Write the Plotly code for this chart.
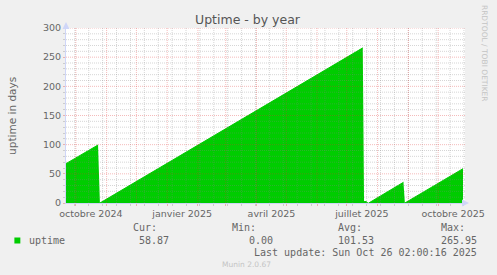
import pandas as pd
import plotly.graph_objects as go

# ---------------- data ----------------
times = ["2024-09-21 02:00", "2024-10-23 09:00", "2024-10-24 08:00", "2024-10-25 06:00",
         "2025-07-17 02:00", "2025-07-17 20:00", "2025-07-18 09:00", "2025-07-20 20:00",
         "2025-07-21 20:00", "2025-07-23 02:00", "2025-08-27 02:00", "2025-08-27 20:00",
         "2025-08-28 12:00", "2025-10-26 02:00"]
uptime = [67.5, 99.5, None, 0.0,
          265.95, None, 2.5, 2.5,
          None, 0.0, 35.5, None,
          0.0, 58.87]

stat_names = ["Cur:", "Min:", "Avg:", "Max:"]
stat_values = ["58.87", "0.00", "101.53", "265.95"]
series_name = "uptime"
last_update = "Last update: Sun Oct 26 02:00:16 2025"

month_labels = {"2024-10-01": "octobre 2024", "2025-01-01": "janvier 2025",
                "2025-04-01": "avril 2025", "2025-07-01": "juillet 2025",
                "2025-10-01": "octobre 2025"}

# ---------------- layout geometry ----------------
W, H = 497, 275
L, T, PW, PH = 66, 28, 402, 175
x_range = [pd.Timestamp("2024-09-21 02:00"), pd.Timestamp("2025-10-28 02:00")]
y_range = [0, 300]

def px(x):
    return (x - L) / PW

def py(y):
    return (T + PH - y) / PH

GREEN = "#00CC00"
FONT = "#666666"
AXIS = "#CFD6F8"
MAJ = "rgba(222,48,48,0.33)"
MIN = "rgba(130,130,130,0.33)"

months = pd.date_range("2024-10-01", "2025-10-01", freq="MS")
fortnights = pd.date_range("2024-09-30", "2025-10-27", freq="14D")
y_major = list(range(50, 301, 50))
y_minor = [v for v in range(10, 301, 10) if v % 50]

fig = go.Figure()
fig.add_trace(go.Scatter(
    x=pd.to_datetime(times), y=uptime, mode="lines",
    line=dict(color=GREEN, width=1), fill="tozeroy", fillcolor=GREEN,
    connectgaps=False, hoverinfo="skip", showlegend=False))

shapes = []
for d in fortnights:
    shapes.append(dict(type="line", xref="x", yref="paper", x0=d, x1=d, y0=0, y1=1,
                       line=dict(color=MIN, width=1, dash="1px,1px"), layer="above"))
for v in y_minor:
    shapes.append(dict(type="line", xref="paper", yref="y", x0=0, x1=1, y0=v, y1=v,
                       line=dict(color=MIN, width=1, dash="1px,1px"), layer="above"))
for d in months:
    shapes.append(dict(type="line", xref="x", yref="paper", x0=d, x1=d, y0=0, y1=1,
                       line=dict(color=MAJ, width=1, dash="1px,1px"), layer="above"))
for v in y_major:
    shapes.append(dict(type="line", xref="paper", yref="y", x0=0, x1=1, y0=v, y1=v,
                       line=dict(color=MAJ, width=1, dash="1px,1px"), layer="above"))
# legend colour square
shapes.append(dict(type="rect", xref="paper", yref="paper",
                   x0=px(14), x1=px(20), y0=py(243.5), y1=py(237.5),
                   fillcolor=GREEN, line=dict(width=0)))

ann = []
ann.append(dict(text="Uptime - by year", x=px(249), y=py(19), xref="paper", yref="paper",
                showarrow=False, xanchor="center", yanchor="middle",
                font=dict(family="DejaVu Sans", size=12.5, color="#555555")))
ann.append(dict(text="uptime in days", x=px(11), y=py(115.5), xref="paper", yref="paper",
                showarrow=False, textangle=-90, xanchor="center", yanchor="middle",
                font=dict(family="DejaVu Sans", size=10.5, color=FONT)))
ann.append(dict(text="RRDTOOL / TOBI OETIKER", x=px(487.7), y=py(53.5), xref="paper", yref="paper",
                showarrow=False, textangle=90, xanchor="center", yanchor="middle",
                font=dict(family="DejaVu Sans", size=7.5, color="#C4C4C4")))
ann.append(dict(text="", x=0, y=1, xref="paper", yref="paper", yshift=6,
                showarrow=True, ax=0, ay=8, arrowhead=2, arrowsize=1.4, arrowwidth=1,
                arrowcolor=AXIS))
ann.append(dict(text="", x=1, y=0, xref="paper", yref="paper", xshift=4,
                showarrow=True, ax=-8, ay=0, arrowhead=2, arrowsize=1.4, arrowwidth=1,
                arrowcolor=AXIS))

mono = dict(family="DejaVu Sans Mono", size=10, color=FONT)
hdr_right = [159.5, 259, 366, 470]
val_right = [172, 276.5, 378.5, 482.5]
for name, val, hx, vx in zip(stat_names, stat_values, hdr_right, val_right):
    ann.append(dict(text=name, x=px(hx), y=py(227.5), xref="paper", yref="paper",
                    showarrow=False, xanchor="right", yanchor="middle", font=mono))
    ann.append(dict(text=val, x=px(vx), y=py(240), xref="paper", yref="paper",
                    showarrow=False, xanchor="right", yanchor="middle", font=mono))
ann.append(dict(text=series_name, x=px(26.5), y=py(240), xref="paper", yref="paper",
                showarrow=False, xanchor="left", yanchor="middle", font=mono))
ann.append(dict(text=last_update, x=px(482.5), y=py(252), xref="paper", yref="paper",
                showarrow=False, xanchor="right", yanchor="middle", font=mono))
ann.append(dict(text="Munin 2.0.67", x=px(248), y=py(264), xref="paper", yref="paper",
                showarrow=False, xanchor="center", yanchor="middle",
                font=dict(family="DejaVu Sans", size=7.5, color="#C4C4C4")))

tickfont = dict(family="DejaVu Sans", size=9.5, color=FONT)
fig.update_layout(
    width=W, height=H,
    margin=dict(l=L, r=W - L - PW, t=T, b=H - T - PH, pad=0),
    paper_bgcolor="#F0F0F0", plot_bgcolor="#FFFFFF",
    font=dict(family="DejaVu Sans", color=FONT),
    shapes=shapes, annotations=ann, showlegend=False,
    xaxis=dict(
        type="date", range=x_range, fixedrange=True,
        tickmode="array", tickvals=list(months),
        ticktext=[month_labels.get(d.strftime("%Y-%m-%d"), "") for d in months],
        ticklabelshift=15, tickfont=tickfont,
        ticks="outside", ticklen=2, tickwidth=1, tickcolor=MAJ,
        showgrid=False, zeroline=False,
        showline=True, linecolor=AXIS, linewidth=1,
        minor=dict(tickmode="array", tickvals=list(fortnights), ticks="outside",
                   ticklen=2, tickwidth=1, tickcolor=MIN, showgrid=False),
    ),
    yaxis=dict(
        range=y_range, fixedrange=True,
        tickmode="array", tickvals=list(range(0, 301, 50)),
        ticktext=[str(v) for v in range(0, 301, 50)], tickfont=tickfont,
        ticks="outside", ticklen=2, tickwidth=1, tickcolor=MAJ,
        showgrid=False, zeroline=False,
        showline=True, linecolor=AXIS, linewidth=1,
        minor=dict(tickmode="array", tickvals=y_minor, ticks="outside",
                   ticklen=2, tickwidth=1, tickcolor=MIN, showgrid=False),
    ),
)

fig.write_html("out.html", config={"displayModeBar": False})
